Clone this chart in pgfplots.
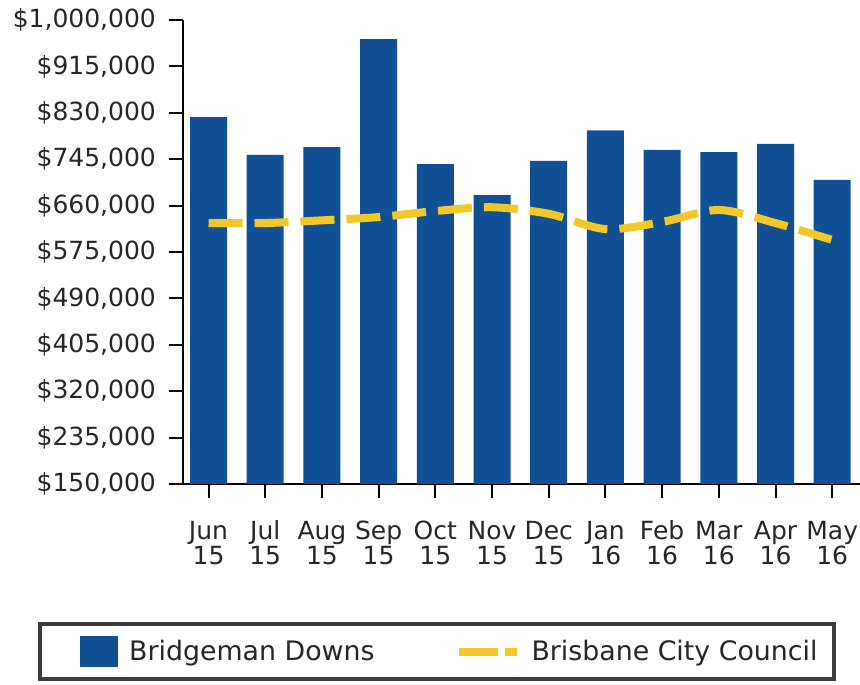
\documentclass[border=0pt]{standalone}
\usepackage{fontspec}
\setmainfont{DejaVu Sans}
\usepackage{pgfplots}
\pgfplotsset{compat=1.18}
\definecolor{barblue}{RGB}{18,80,150}
\definecolor{lineyellow}{RGB}{242,200,40}
\definecolor{legframe}{RGB}{60,60,60}
\begin{document}
\begin{tikzpicture}
\useasboundingbox (0,0) rectangle (430pt,342pt);
\begin{axis}[
  scale only axis,
  width=338.5pt, height=232pt,
  at={(91.5pt,100pt)}, anchor=south west,
  xmin=-0.45, xmax=11.49,
  ymin=150000, ymax=1000000,
  scaled ticks=false,
  axis lines=left,
  axis line style={-, line width=1pt, black},
  tick align=outside,
  major tick length=7pt,
  tick style={black, line width=1pt},
  ytick={150000,235000,320000,405000,490000,575000,660000,745000,830000,915000,1000000},
  yticklabels={{\$150,000},{\$235,000},{\$320,000},{\$405,000},{\$490,000},{\$575,000},{\$660,000},{\$745,000},{\$830,000},{\$915,000},{\$1,000,000}},
  yticklabel style={font=\fontsize{12.5}{15}\selectfont, xshift=-3pt, text=black!85},
  xtick={0,1,2,3,4,5,6,7,8,9,10,11},
  xticklabels={{Jun\\15},{Jul\\15},{Aug\\15},{Sep\\15},{Oct\\15},{Nov\\15},{Dec\\15},{Jan\\16},{Feb\\16},{Mar\\16},{Apr\\16},{May\\16}},
  xticklabel style={align=center, font=\fontsize{12.5}{12.5}\selectfont, text=black!85, text height=9.5pt, yshift=-20pt},
  legend columns=2,
  legend style={
    at={(0.375,-0.362)}, anchor=center,
    draw=legframe, line width=2pt,
    inner xsep=8pt, inner ysep=6pt,
    font=\fontsize{13.4}{16}\selectfont,
    nodes={inner sep=0pt, text depth=0.2em, text=black!85},
    cells={anchor=west},
    /tikz/every odd column/.append style={column sep=5.5pt},
    /tikz/every even column/.append style={column sep=40pt},
  },
]
\addplot[ybar, bar shift=0pt, bar width=18.5pt, fill=barblue, draw=none,
  legend image code/.code={\path (-12pt,0pt); \fill[barblue] (0pt,-7.75pt) rectangle (19pt,7.75pt);}]
  coordinates {(0,822000) (1,753000) (2,767000) (3,965000) (4,736000) (5,679000)
               (6,742000) (7,798000) (8,762000) (9,758000) (10,773000) (11,707000)};
\addlegendentry{Bridgeman Downs}
\addplot[lineyellow, line width=4pt, dash pattern=on 17pt off 6pt, smooth,
  legend image code/.code={\draw[lineyellow, line width=4pt, dash pattern=on 19.5pt off 3.5pt on 6pt off 5pt] (0pt,0pt) -- (29pt,0pt);}]
  coordinates {(0,628000) (1,628000) (2,633000) (3,639000) (4,650000) (5,657000)
               (6,645000) (7,617000) (8,630000) (9,652000) (10,628000) (11,597000)};
\addlegendentry{Brisbane City Council}
\end{axis}
\end{tikzpicture}
\end{document}
